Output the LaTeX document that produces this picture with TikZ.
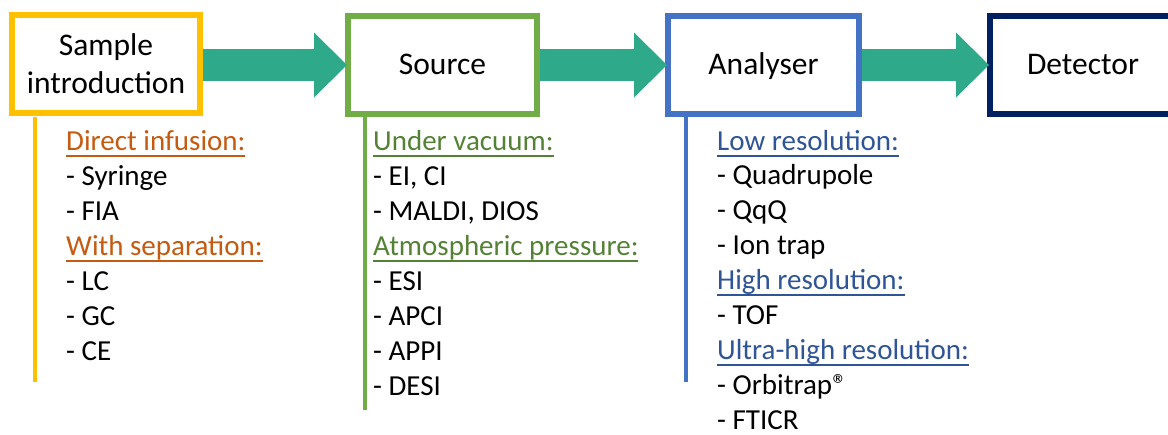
\documentclass[tikz,border=0pt]{standalone}
\usepackage{fontspec}
\setmainfont{Carlito}
\usetikzlibrary{arrows.meta}
\definecolor{cyel}{HTML}{FFC000}
\definecolor{cgrn}{HTML}{70AD47}
\definecolor{cblu}{HTML}{4472C4}
\definecolor{cnav}{HTML}{002060}
\definecolor{carrow}{HTML}{2EAA8A}
\definecolor{torange}{HTML}{C55A11}
\definecolor{tgreen}{HTML}{548235}
\definecolor{tblue}{HTML}{2F5597}
\newcommand{\hdline}[1]{\setbox0\hbox{#1}\rlap{\rule[-6.8pt]{\wd0}{2.2pt}}\box0}
\newcommand{\regmark}{\kern0.5pt ®}
\begin{document}
\begin{tikzpicture}[x=1pt,y=-1pt,
  box/.style={draw,line width=6pt,minimum height=98pt,inner sep=0pt,fill=white,
    font=\fontsize{31.5}{37.8}\selectfont,align=center},
  flow/.style={draw=carrow,line width=32pt,shorten >=-2pt,
    -{Triangle[length=33pt,width=65pt,line width=0pt]}},
  stem/.style={line width=3.5pt},
  item/.style={anchor=base west,inner sep=0pt,font=\fontsize{29}{35}\selectfont},
  hd/.style={item}
]
\path[use as bounding box,clip] (0,0) rectangle (1168,434);

% boxes
\node[box,draw=cyel,minimum width=188pt] (b1) at (106,63.5) {Sample\\introduction};
\node[box,draw=cgrn,minimum width=189pt,text height=19pt,text depth=0pt] (b2) at (442.5,65) {Source};
\node[box,draw=cblu,minimum width=191pt,text height=19pt,text depth=0pt] (b3) at (763.5,65) {Analyser};
\node[box,draw=cnav,minimum width=186pt,text height=19pt,text depth=0pt] (b4) at (1083,65) {Detector};

% flow arrows
\draw[flow] (b1.east |- b2.east) -- (b2.west);
\draw[flow] (b2.east) -- (b3.west);
\draw[flow] (b3.east) -- (b4.west);

% stems
\coordinate (e1) at (35,382);
\coordinate (e2) at (365,410);
\coordinate (e3) at (686,382);
\draw[stem,cyel] (b2.south -| e1) -- (e1);
\draw[stem,cgrn] (b2.south -| e2) -- (e2);
\draw[stem,cblu] (b3.south -| e3) -- (e3);

% column 1
\node[hd,text=torange] (h11) at (66,150) {\hdline{Direct infusion:}};
\node[item] (i11) at (66,185.1) {- Syringe};
\node[item] (i12) at (66,220.2) {- FIA};
\node[hd,text=torange] (h12) at (66,255.3) {\hdline{With separation:}};
\node[item] (i13) at (66,290.4) {- LC};
\node[item] (i14) at (66,325.5) {- GC};
\node[item] (i15) at (66,360.6) {- CE};

% column 2
\node[hd,text=tgreen] (h21) at (373,150) {\hdline{Under vacuum:}};
\node[item] (i21) at (373,185.1) {- EI, CI};
\node[item] (i22) at (373,220.2) {- MALDI, DIOS};
\node[hd,text=tgreen] (h22) at (373,255.3) {\hdline{Atmospheric pressure:}};
\node[item] (i23) at (373,290.4) {- ESI};
\node[item] (i24) at (373,325.5) {- APCI};
\node[item] (i25) at (373,360.6) {- APPI};
\node[item] (i26) at (373,395.7) {- DESI};

% column 3
\node[hd,text=tblue] (h31) at (717,150) {\hdline{Low resolution:}};
\node[item] (i31) at (717,184.9) {- Quadrupole};
\node[item] (i32) at (717,219.8) {- QqQ};
\node[item] (i33) at (717,254.7) {- Ion trap};
\node[hd,text=tblue] (h32) at (717,289.6) {\hdline{High resolution:}};
\node[item] (i34) at (717,324.5) {- TOF};
\node[hd,text=tblue] (h33) at (717,359.4) {\hdline{Ultra-high resolution:}};
\node[item] (i35) at (717,394.3) {- Orbitrap\regmark};
\node[item] (i36) at (717,429.2) {- FTICR};
\end{tikzpicture}
\end{document}
